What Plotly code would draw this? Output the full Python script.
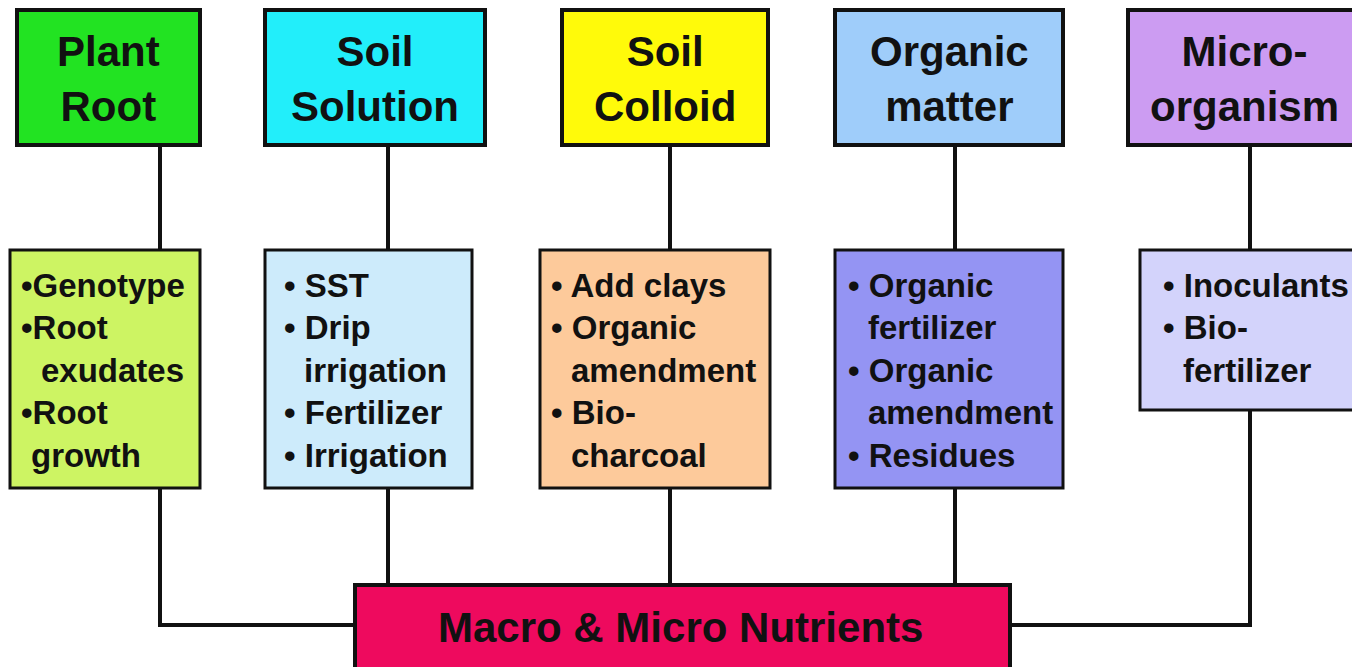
import plotly.graph_objects as go

# ---- content ----
top_titles = ["Plant<br>Root", "Soil<br>Solution", "Soil<br>Colloid", "Organic<br>matter", "Micro-<br>organism"]
top_colors = ["#22e322", "#22eefa", "#fffa0a", "#9fcdfa", "#cc9cf2"]
mid_items = [
    ["•Genotype", "•Root", "  exudates", "•Root", " growth"],
    ["• SST", "• Drip", "  irrigation", "• Fertilizer", "• Irrigation"],
    ["• Add clays", "• Organic", "  amendment", "• Bio-", "  charcoal"],
    ["• Organic", "  fertilizer", "• Organic", "  amendment", "• Residues"],
    ["• Inoculants", "• Bio-", "  fertilizer"],
]
mid_colors = ["#cdf463", "#cdebfb", "#fdca9b", "#9494f3", "#d3d3fb"]
bottom_label = "Macro & Micro Nutrients"
bottom_color = "#ee0a5e"

# ---- layout geometry (page pixels; the page body has an 8px margin) ----
W, H = 1360, 667
PAGE_MARGIN = 8
stem_x = [160, 388, 670, 955, 1250]
top_box_x = [(17, 200), (265, 485), (562, 768), (835, 1063), (1128, 1375)]
top_y = (10, 145)
mid_box_x = [(10, 200), (265, 472), (540, 770), (835, 1063), (1140, 1375)]
mid_y_bottom = [488, 488, 488, 488, 410]
mid_top = 250
mid_text_x = [19, 282, 549, 846, 1161]
line_y0, line_dy = 285, 42.5
bot_box = (355, 1010, 585, 690)
join_y = 625

FONT = "Liberation Sans, Arial, sans-serif"
INK = "#111111"

fig = go.Figure()
fig.add_trace(go.Scatter(x=[0, W], y=[0, H], mode="markers", marker=dict(opacity=0), hoverinfo="skip", showlegend=False))

shapes = []
annotations = []

# connector lines
for i, x in enumerate(stem_x):
    y_end = join_y if i in (0, 4) else bot_box[2]
    shapes.append(dict(type="line", x0=x, x1=x, y0=-5, y1=y_end, line=dict(color=INK, width=4)))
shapes.append(dict(type="line", x0=stem_x[0] - 2, x1=bot_box[0], y0=join_y, y1=join_y, line=dict(color=INK, width=4)))
shapes.append(dict(type="line", x0=bot_box[1], x1=stem_x[4] + 2, y0=join_y, y1=join_y, line=dict(color=INK, width=4)))

# top boxes
for (x0, x1), col, title in zip(top_box_x, top_colors, top_titles):
    shapes.append(dict(type="rect", x0=x0, x1=x1, y0=top_y[0], y1=top_y[1], fillcolor=col, line=dict(color=INK, width=4)))
    annotations.append(dict(x=(x0 + min(x1, W)) / 2, y=(top_y[0] + top_y[1]) / 2 + 1, text="<b>" + title + "</b>",
                            showarrow=False, font=dict(family=FONT, size=42, color=INK),
                            xanchor="center", yanchor="middle"))

# middle boxes
for (x0, x1), yb, col, items, tx in zip(mid_box_x, mid_y_bottom, mid_colors, mid_items, mid_text_x):
    shapes.append(dict(type="rect", x0=x0, x1=x1, y0=mid_top, y1=yb, fillcolor=col, line=dict(color=INK, width=3)))
    for k, line in enumerate(items):
        stripped = line.lstrip(" ")
        indent = 10 * (len(line) - len(stripped))
        annotations.append(dict(x=tx + indent, y=line_y0 + k * line_dy, text="<b>" + stripped + "</b>",
                                showarrow=False, xanchor="left", yanchor="middle",
                                font=dict(family=FONT, size=33, color=INK)))

# bottom box
shapes.append(dict(type="rect", x0=bot_box[0], x1=bot_box[1], y0=bot_box[2], y1=bot_box[3], fillcolor=bottom_color,
                   line=dict(color=INK, width=4)))
annotations.append(dict(x=(bot_box[0] + bot_box[1]) / 2 - 2, y=627, text="<b>" + bottom_label + "</b>", showarrow=False,
                        xanchor="center", yanchor="middle", font=dict(family=FONT, size=42, color=INK)))

fig.update_layout(
    width=W - PAGE_MARGIN, height=H - PAGE_MARGIN, margin=dict(l=0, r=0, t=0, b=0),
    paper_bgcolor="white", plot_bgcolor="white",
    xaxis=dict(range=[PAGE_MARGIN, W], visible=False, fixedrange=True),
    yaxis=dict(range=[H, PAGE_MARGIN], visible=False, fixedrange=True),
    shapes=shapes, annotations=annotations, showlegend=False,
)
fig.write_html("out.html")
